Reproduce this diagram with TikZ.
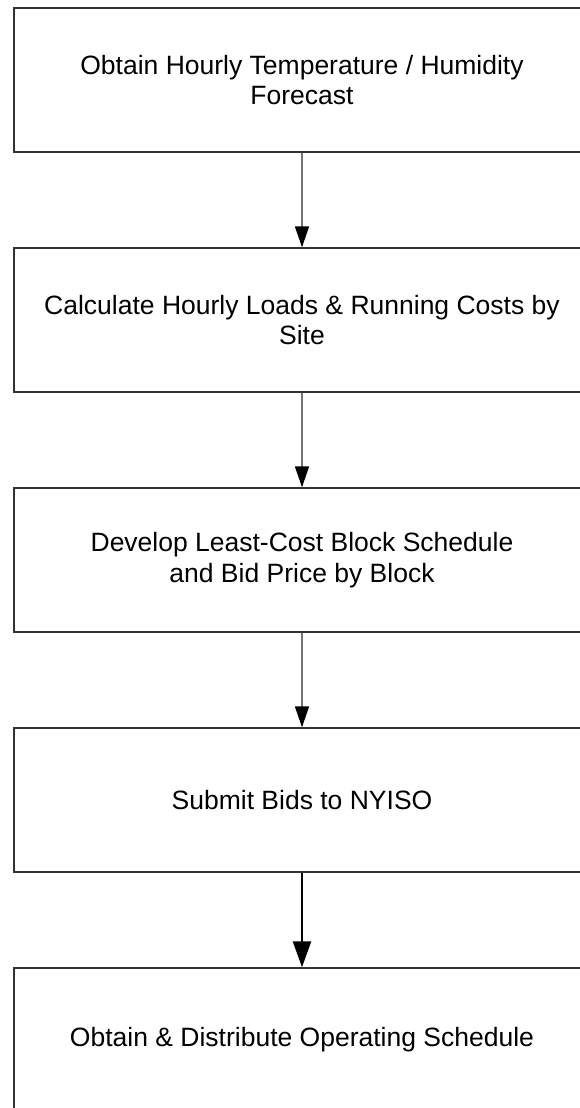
\documentclass[tikz,border=0pt]{standalone}
\usepackage{fontspec}
\setmainfont{Liberation Sans}
\usetikzlibrary{arrows.meta}
\begin{document}
\begin{tikzpicture}[x=1pt,y=1pt,
  stepbox/.style={draw=black!80, line width=1.4pt, rectangle,
    minimum width=576pt, minimum height=144pt, inner sep=0pt,
    align=center, font=\fontsize{26.5}{30.5}\selectfont},
  flow/.style={draw=black!55, line width=1.6pt,
    -{Triangle[width=14pt,length=21pt,color=black]}},
  flowbold/.style={draw=black, line width=2.4pt,
    -{Triangle[width=18pt,length=26pt,color=black]}}]
\useasboundingbox (0,0) rectangle (579,-1108);
\node[stepbox] (s1) at (302,-80)   {Obtain Hourly Temperature / Humidity\\Forecast};
\node[stepbox] (s2) at (302,-320)  {Calculate Hourly Loads \& Running Costs by\\Site};
\node[stepbox] (s3) at (302,-560)  {Develop Least-Cost Block Schedule\\and Bid Price by Block};
\node[stepbox] (s4) at (302,-800)  {Submit Bids to NYISO};
\node[stepbox] (s5) at (302,-1040) {Obtain \& Distribute Operating Schedule};
\draw[flow] (s1.south) -- (s2.north);
\draw[flow] (s2.south) -- (s3.north);
\draw[flow] (s3.south) -- (s4.north);
\draw[flowbold] (s4.south) -- (s5.north);
\end{tikzpicture}
\end{document}
